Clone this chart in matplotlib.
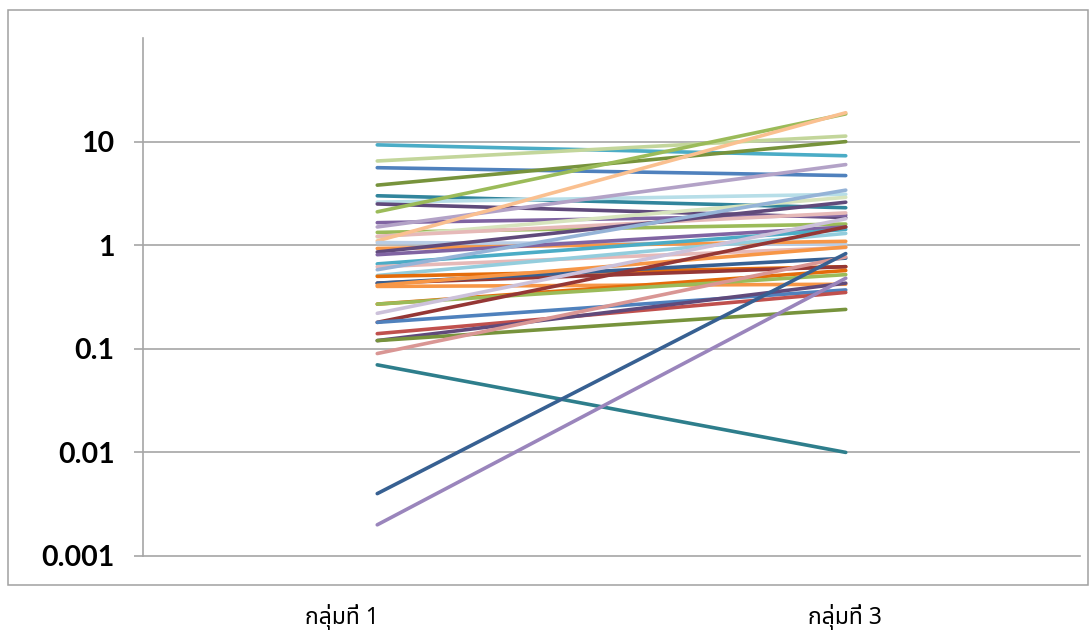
import matplotlib
matplotlib.use("Agg")
import matplotlib.pyplot as plt
from matplotlib import font_manager
from matplotlib.patches import Rectangle
from matplotlib.ticker import FixedLocator, FixedFormatter, NullLocator

# Category labels on the x axis
categories = ["กลุ่มที่ 1", "กลุ่มที่ 3"]

# Values for each series in group 1 and group 3
group1 = [9.3, 6.5, 5.6, 3.8, 3.0, 2.6, 2.5, 2.1, 1.65, 1.5,
          1.33, 1.2, 1.22, 1.1, 1.06, 0.93, 0.86, 0.81, 0.66, 0.62,
          0.58, 0.51, 0.50, 0.43, 0.43, 0.41, 0.40, 0.27, 0.27, 0.22,
          0.18, 0.18, 0.14, 0.12, 0.12, 0.09, 0.07, 0.004, 0.002]
group3 = [7.3, 11.3, 4.7, 10.0, 2.3, 3.1, 1.85, 18.5, 1.95, 6.0,
          1.6, 2.9, 2.05, 19.0, 1.02, 1.09, 2.6, 1.5, 1.42, 0.95,
          3.4, 1.3, 0.62, 0.62, 0.75, 0.96, 0.42, 0.57, 0.52, 1.8,
          1.5, 0.37, 0.35, 0.43, 0.24, 0.77, 0.01, 0.83, 0.48]
series_colors = ["#4BACC6", "#C3D69B", "#4F81BD", "#77933C", "#31859C",
                 "#B7DEE8", "#604A7B", "#9BBB59", "#8064A2", "#B3A2C7",
                 "#9BBB59", "#D7E4BD", "#E6B9B8", "#FAC090", "#B9CDE5",
                 "#F79646", "#604A7B", "#8064A2", "#4BACC6", "#E6B9B8",
                 "#95B3D7", "#93CDDD", "#E46C0A", "#953735", "#376092",
                 "#F79646", "#F79646", "#E46C0A", "#9BBB59", "#CCC1DA",
                 "#953735", "#4F81BD", "#C0504D", "#604A7B", "#77933C",
                 "#D99694", "#2E7E8C", "#376092", "#9A85BC"]

y_ticks = [0.001, 0.01, 0.1, 1, 10]
y_tick_labels = ["0.001", "0.01", "0.1", "1", "10"]


def find_thai_family():
    preferred = ["Tahoma", "Noto Sans Thai", "Noto Sans Thai UI", "Loma",
                 "Garuda", "Sarabun", "Kinnari", "Norasi", "Waree"]
    found = []
    try:
        from fontTools.ttLib import TTFont
    except ImportError:
        return None
    for fe in font_manager.fontManager.ttflist:
        try:
            f = TTFont(fe.fname, fontNumber=0, lazy=True)
            cmap = f.getBestCmap()
            if cmap and 0x0E01 in cmap and 0x0E38 in cmap:
                if fe.name not in found:
                    found.append(fe.name)
        except Exception:
            continue
    for name in preferred:
        if name in found:
            return name
    return found[0] if found else None


thai_family = find_thai_family()
label_families = ([thai_family] if thai_family else []) + ["DejaVu Sans"]

W, H = 1090, 636
fig = plt.figure(figsize=(W / 100, H / 100), dpi=100)
fig.patch.set_facecolor("white")

grid_color = "#A6A6A6"

# Outer chart frame
fig.patches.append(Rectangle((8 / W, 1 - 585 / H), (1088 - 8) / W, (585 - 10) / H,
                             transform=fig.transFigure, fill=False,
                             edgecolor="#A0A0A0", linewidth=1.1))

ax = fig.add_axes([143 / W, 1 - 556 / H, (1080 - 143) / W, (556 - 38) / H])
ax.set_yscale("log")
ax.set_ylim(0.001, 100)
ax.set_xlim(-0.5, 1.5)

for a, b, c in zip(group1, group3, series_colors):
    ax.plot([0, 1], [a, b], color=c, linewidth=2.6, solid_capstyle="round",
            zorder=3)

ax.yaxis.set_major_locator(FixedLocator(y_ticks))
ax.yaxis.set_major_formatter(FixedFormatter(y_tick_labels))
ax.yaxis.set_minor_locator(NullLocator())
ax.xaxis.set_major_locator(NullLocator())
ax.xaxis.set_minor_locator(NullLocator())

for v in y_ticks[1:]:
    ax.axhline(v, color=grid_color, linewidth=1.2, zorder=1)

for side in ("top", "right"):
    ax.spines[side].set_visible(False)
for side in ("left", "bottom"):
    ax.spines[side].set_color(grid_color)
    ax.spines[side].set_linewidth(1.2)

ax.tick_params(axis="y", which="major", direction="out", length=6.5,
               width=1.2, color=grid_color, pad=14)
for lbl in ax.get_yticklabels():
    lbl.set_fontfamily(["Lato", "DejaVu Sans"])
    lbl.set_fontweight("bold")
    lbl.set_fontsize(20.5)
    lbl.set_color("black")

# Category labels sit below the chart frame
for xc, text in zip([342, 845], categories):
    fig.text(xc / W, 1 - 617 / H, text, ha="center", va="center",
             fontsize=16.5, family=label_families, color="black")

fig.savefig("out.png", dpi=100)
